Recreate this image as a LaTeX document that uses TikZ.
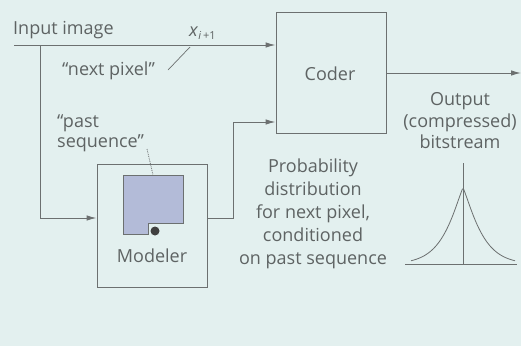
\documentclass[tikz,border=0pt]{standalone}
\usepackage{fontspec}
\setmainfont{Open Sans}
\usetikzlibrary{arrows.meta}
\definecolor{bgcol}{HTML}{E3F0EF}
\definecolor{linecol}{HTML}{6C7070}
\definecolor{txtcol}{HTML}{5E6363}
\definecolor{memcol}{HTML}{B3BBD8}
\tikzset{
  box/.style={draw=linecol, line width=1pt, rectangle, inner sep=0pt},
  lbl/.style={text=txtcol, font=\fontsize{18}{22}\selectfont, inner sep=0pt},
  conn/.style={draw=linecol, line width=1pt},
  arr/.style={conn, -{Latex[length=10pt,width=5.5pt]}},
}
\begin{document}
\begin{tikzpicture}[x=1pt,y=-1pt]
  \fill[bgcol] (0,0) rectangle (521,346);
  \useasboundingbox (0,0) rectangle (521,346);

  % blocks
  \node[box, minimum width=110pt, minimum height=121pt] (coder) at (331,72.5) {};
  \node[lbl] (codertxt) at (330,74) {Coder};
  \node[box, minimum width=110pt, minimum height=123pt] (modeler) at (152,225.5) {};
  \node[lbl] (modtxt) at (152,256) {Modeler};

  % past-sequence memory with its notch and read point
  \filldraw[fill=memcol, draw=linecol, line width=1pt]
    (123,175) -- (183,175) -- (183,223) -- (148,223) -- (148,234) -- (123,234) -- cycle;
  \fill[black!75] (155,231) circle (4.5pt);

  % input line
  \coordinate (inp) at (14,45);
  \coordinate (split) at (40,45);
  \coordinate (down) at (40,218);
  \draw[arr] (inp) -- (inp -| coder.west);
  \draw[arr] (split) -- (down) -- (down -| modeler.west);

  % modeler to coder
  \coordinate (mout) at (207,218);
  \coordinate (bend) at (233,218);
  \coordinate (up) at (233,122);
  \draw[arr] (mout) -- (bend) -- (up) -- (up -| coder.west);

  % output
  \coordinate (outR) at (521,73);
  \draw[arr] (outR -| coder.east) -- (outR);

  % labels
  \node[lbl, anchor=base west] (intxt) at (13,34) {Input image};
  \node[lbl, anchor=base west] (xnext) at (189,36)
    {\textit{x}\raisebox{-3pt}{\fontsize{11}{11}\selectfont\textit{i}\,+1}};
  \node[lbl, anchor=base west] (nextpx) at (62,75) {``next pixel''};
  \coordinate (np1) at (168,70);
  \coordinate (np2) at (190,47);
  \draw[conn, line width=0.7pt] (np1) -- (np2);
  \node[lbl, anchor=north west, align=left, font=\fontsize{18}{20}\selectfont] (past) at (57,114) {``past\\sequence''};
  \coordinate (ps1) at (147,149);
  \coordinate (ps2) at (153,175);
  \draw[conn, line width=0.8pt, densely dotted] (ps1) -- (ps2);

  \node[lbl, align=center, font=\fontsize{18}{23}\selectfont] (prob) at (313,214)
    {Probability\\distribution\\for next pixel,\\conditioned\\on past sequence};
  \node[lbl, align=center, font=\fontsize{18}{21.5}\selectfont] (outtxt) at (460,121)
    {Output\\(compressed)\\bitstream};

  % distribution sketch: a peaked, heavy-sided density
  \draw[conn, line width=0.8pt] (405,264) -- (517,264);
  \draw[conn, line width=1pt] (463,163) -- (463,264);
  \draw[conn, line width=0.8pt, domain=-52:52, samples=100]
    plot ({463+\x}, {264-76*exp(-pow(abs(\x)/20,1.2))});
\end{tikzpicture}
\end{document}
